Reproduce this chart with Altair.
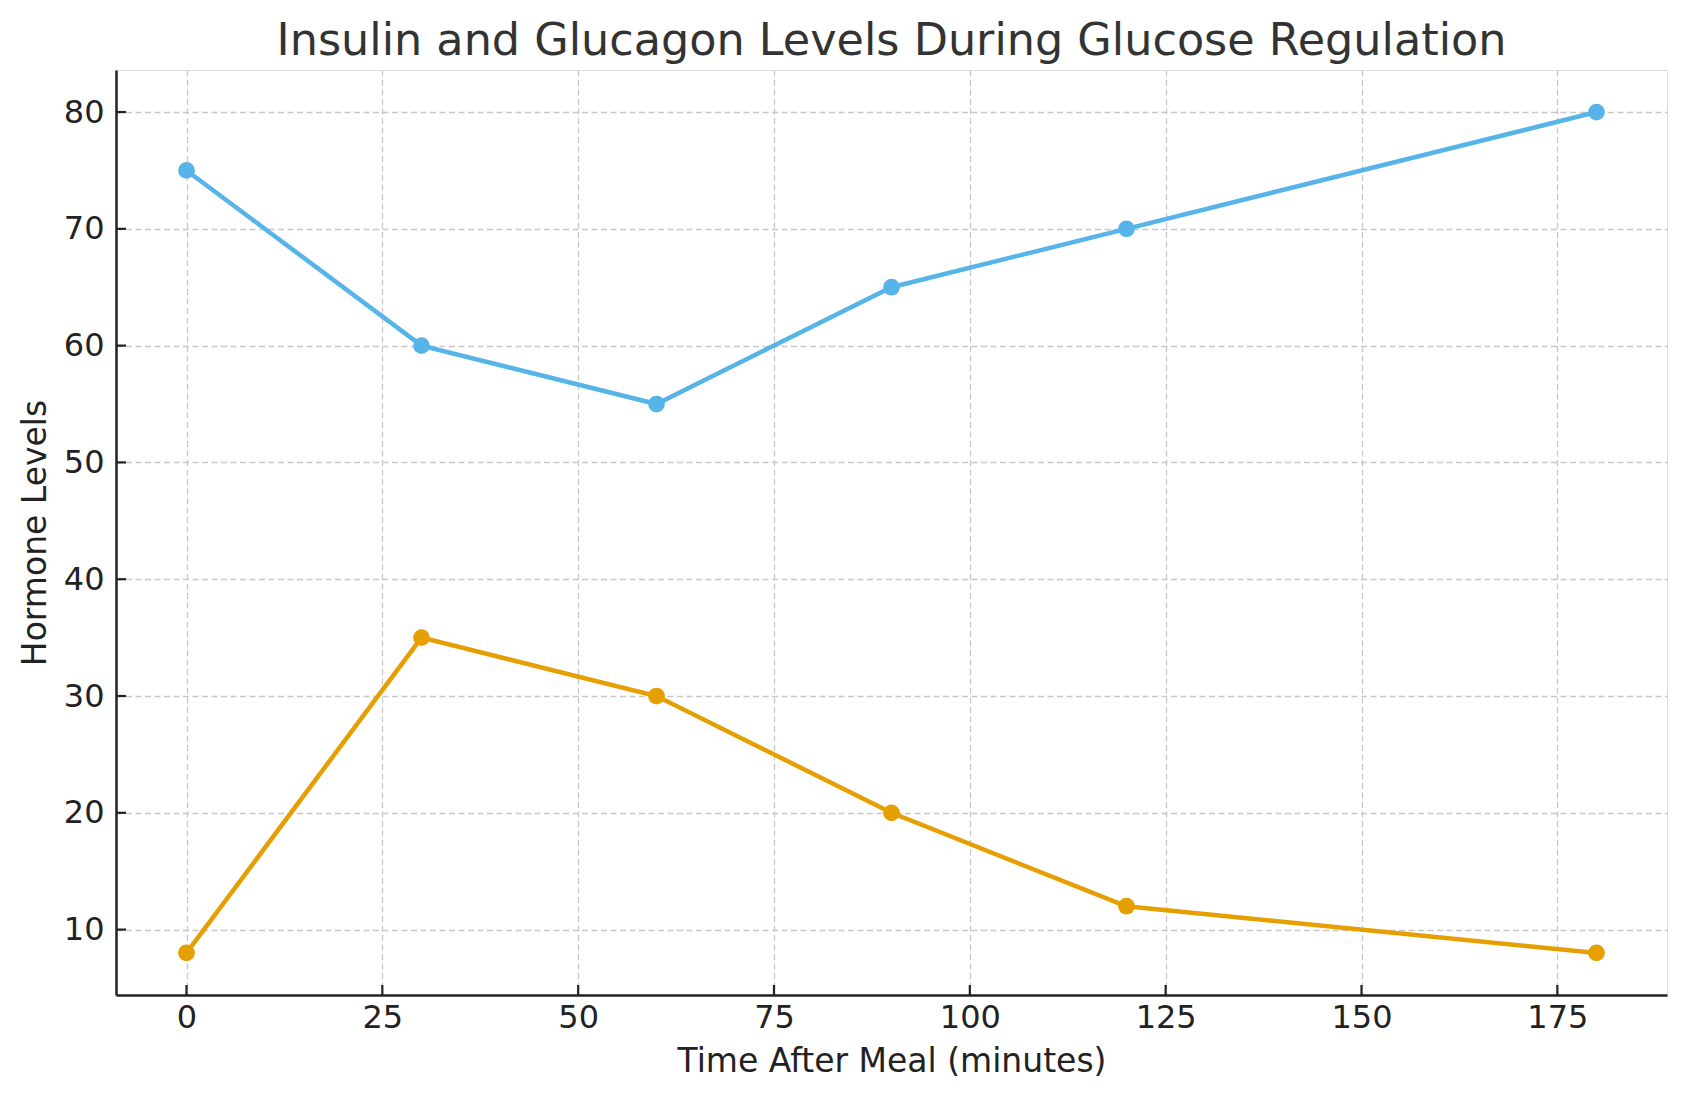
import altair as alt
import pandas as pd

time_min = [0, 30, 60, 90, 120, 180]
glucagon = [75, 60, 55, 65, 70, 80]
insulin = [8, 35, 30, 20, 12, 8]
series_names = ["Glucagon", "Insulin"]
series_colors = ["#56B4E9", "#E69F00"]
x_ticks = [0, 25, 50, 75, 100, 125, 150, 175]
y_ticks = [10, 20, 30, 40, 50, 60, 70, 80]

rows = []
for t, g, i in zip(time_min, glucagon, insulin):
    rows.append({"time": t, "level": g, "hormone": "Glucagon"})
    rows.append({"time": t, "level": i, "hormone": "Insulin"})
df = pd.DataFrame(rows)
xt_df = pd.DataFrame({"time": x_ticks})
yt_df = pd.DataFrame({"level": y_ticks})

FONT = "DejaVu Sans"
W, H = 1551, 925
AXIS_COLOR = "#222222"

common_axis = dict(
    grid=True,
    gridDash=[6, 3.5],
    gridColor="#c8c8c8",
    gridWidth=1.3,
    domainColor=AXIS_COLOR,
    domainWidth=2.5,
    ticks=False,
    labelFont=FONT,
    labelFontSize=32,
    labelColor=AXIS_COLOR,
    titleFont=FONT,
    titleFontSize=33,
    titleFontWeight="normal",
    titleColor=AXIS_COLOR,
)

x_scale = alt.Scale(domain=[-9, 189], nice=False, zero=False)
y_scale = alt.Scale(domain=[4.4, 83.6], nice=False, zero=False)

x_enc = alt.X(
    "time:Q",
    scale=x_scale,
    axis=alt.Axis(
        title="Time After Meal (minutes)",
        values=x_ticks,
        labelPadding=7,
        titlePadding=12,
        **common_axis,
    ),
)
y_enc = alt.Y(
    "level:Q",
    scale=y_scale,
    axis=alt.Axis(
        title="Hormone Levels",
        values=y_ticks,
        labelPadding=12,
        titlePadding=11,
        **common_axis,
    ),
)
color_enc = alt.Color(
    "hormone:N",
    scale=alt.Scale(domain=series_names, range=series_colors),
    legend=None,
)

lines = alt.Chart(df).mark_line(strokeWidth=4.5).encode(
    x=x_enc, y=y_enc, color=color_enc, detail="hormone:N"
)
points = alt.Chart(df).mark_circle(size=280, opacity=1).encode(
    x="time:Q", y="level:Q", color=color_enc
)

# inward-pointing tick marks, positioned through the shared scales
x_tick_marks = alt.Chart(xt_df).mark_rule(color=AXIS_COLOR, strokeWidth=2.2).encode(
    x="time:Q", y=alt.value(H), y2=alt.value(H - 10)
)
y_tick_marks = alt.Chart(yt_df).mark_rule(color=AXIS_COLOR, strokeWidth=2.2).encode(
    y="level:Q", x=alt.value(0), x2=alt.value(10)
)

chart = (
    alt.layer(lines, points, x_tick_marks, y_tick_marks)
    .properties(
        width=W,
        height=H,
        title=alt.TitleParams(
            text="Insulin and Glucagon Levels During Glucose Regulation",
            font=FONT,
            fontSize=44.5,
            fontWeight="normal",
            color="#333333",
            anchor="middle",
            offset=6,
        ),
        autosize=alt.AutoSizeParams(type="none"),
        padding={"left": 116, "top": 70, "right": 19, "bottom": 106},
    )
    .configure_view(stroke=None)
    .configure(background="white")
)

chart.save("out.html", embed_options={"renderer": "svg", "actions": False})
